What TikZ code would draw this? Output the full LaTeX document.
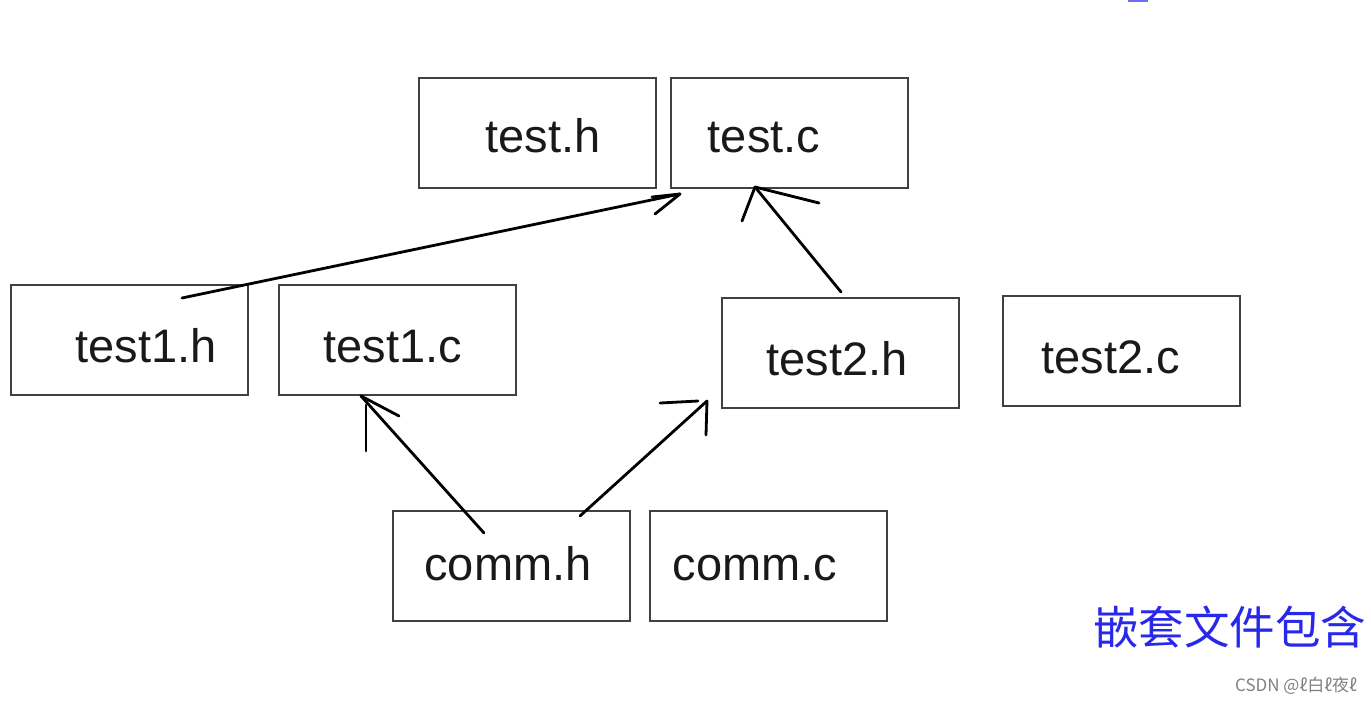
\documentclass[tikz,border=0pt]{standalone}
\usepackage{fontspec}
\setmainfont{Liberation Sans}
\newfontfamily\cjk{Noto Sans CJK SC}
\definecolor{capblue}{RGB}{40,40,235}
\definecolor{markblue}{RGB}{110,110,250}
\begin{document}
\begin{tikzpicture}[x=1pt,y=-1pt,
  box/.style={draw=black!75,line width=2pt,minimum width=237pt,minimum height=110pt,inner sep=0pt,anchor=north west},
  lbl/.style={font=\fontsize{47}{50}\selectfont,anchor=base,inner sep=0pt,text=black!90},
  stroke/.style={line width=2.8pt,line cap=round,line join=round,black}]
\useasboundingbox (0,0) rectangle (1371,702);
% boxes
\node[box] (testh) at (418,77) {};
\node[box] (testc) at (670,77) {};
\node[box] (test1h) at (10,284) {};
\node[box] (test1c) at (278,284) {};
\node[box] (test2h) at (721,297) {};
\node[box] (test2c) at (1002,295) {};
\node[box] (commh) at (392,510) {};
\node[box] (commc) at (649,510) {};
% labels
\node[lbl] (ltesth) at (543,152) {test.h};
\node[lbl] (ltestc) at (764,152) {test.c};
\node[lbl] (ltest1h) at (146,362) {test1.h};
\node[lbl] (ltest1c) at (393,362) {test1.c};
\node[lbl] (ltest2h) at (837,375) {test2.h};
\node[lbl] (ltest2c) at (1111,373) {test2.c};
\node[lbl] (lcommh) at (508,580) {comm.h};
\node[lbl] (lcommc) at (755,580) {comm.c};
% arrow endpoints
\coordinate (a1s) at (182,298);
\coordinate (a1t) at (680,194);
\coordinate (a2s) at (841,292);
\coordinate (a2t) at (755,187);
\coordinate (a3s) at (484,533);
\coordinate (a3t) at (361,396);
\coordinate (a4s) at (580,516);
\coordinate (a4t) at (707,401);
% arrow 1: test1.h -> test.c
\draw[stroke] (a1s) -- (a1t);
\draw[stroke] (652,197) -- (a1t) -- (655,214);
% arrow 2: test2.h -> test.c
\draw[stroke] (a2s) -- (a2t);
\draw[stroke] (742,221) -- (a2t) -- (819,203);
% arrow 3: comm.h -> test1.c
\draw[stroke] (a3s) -- (a3t);
\draw[stroke] (366,451) -- (366,405);
\draw[stroke] (a3t) -- (399,416);
% arrow 4: comm.h -> test2.h
\draw[stroke] (a4s) -- (a4t);
\draw[stroke] (660,403) -- (698,401);
\draw[stroke] (a4t) -- (706,435);
% caption
\node[anchor=base west,inner sep=0pt,text=capblue,font=\cjk\fontsize{45.5}{48}\selectfont] (cap) at (1093,644) {嵌套文件包含};
\node[anchor=base east,inner sep=0pt,text=black!50,font=\cjk\fontsize{17}{20}\selectfont] (wm) at (1357,691) {CSDN @ℓ白ℓ夜ℓ};
% partial blue mark at top edge
\fill[markblue] (1128,-3) rectangle (1148,1.5);
\end{tikzpicture}
\end{document}
